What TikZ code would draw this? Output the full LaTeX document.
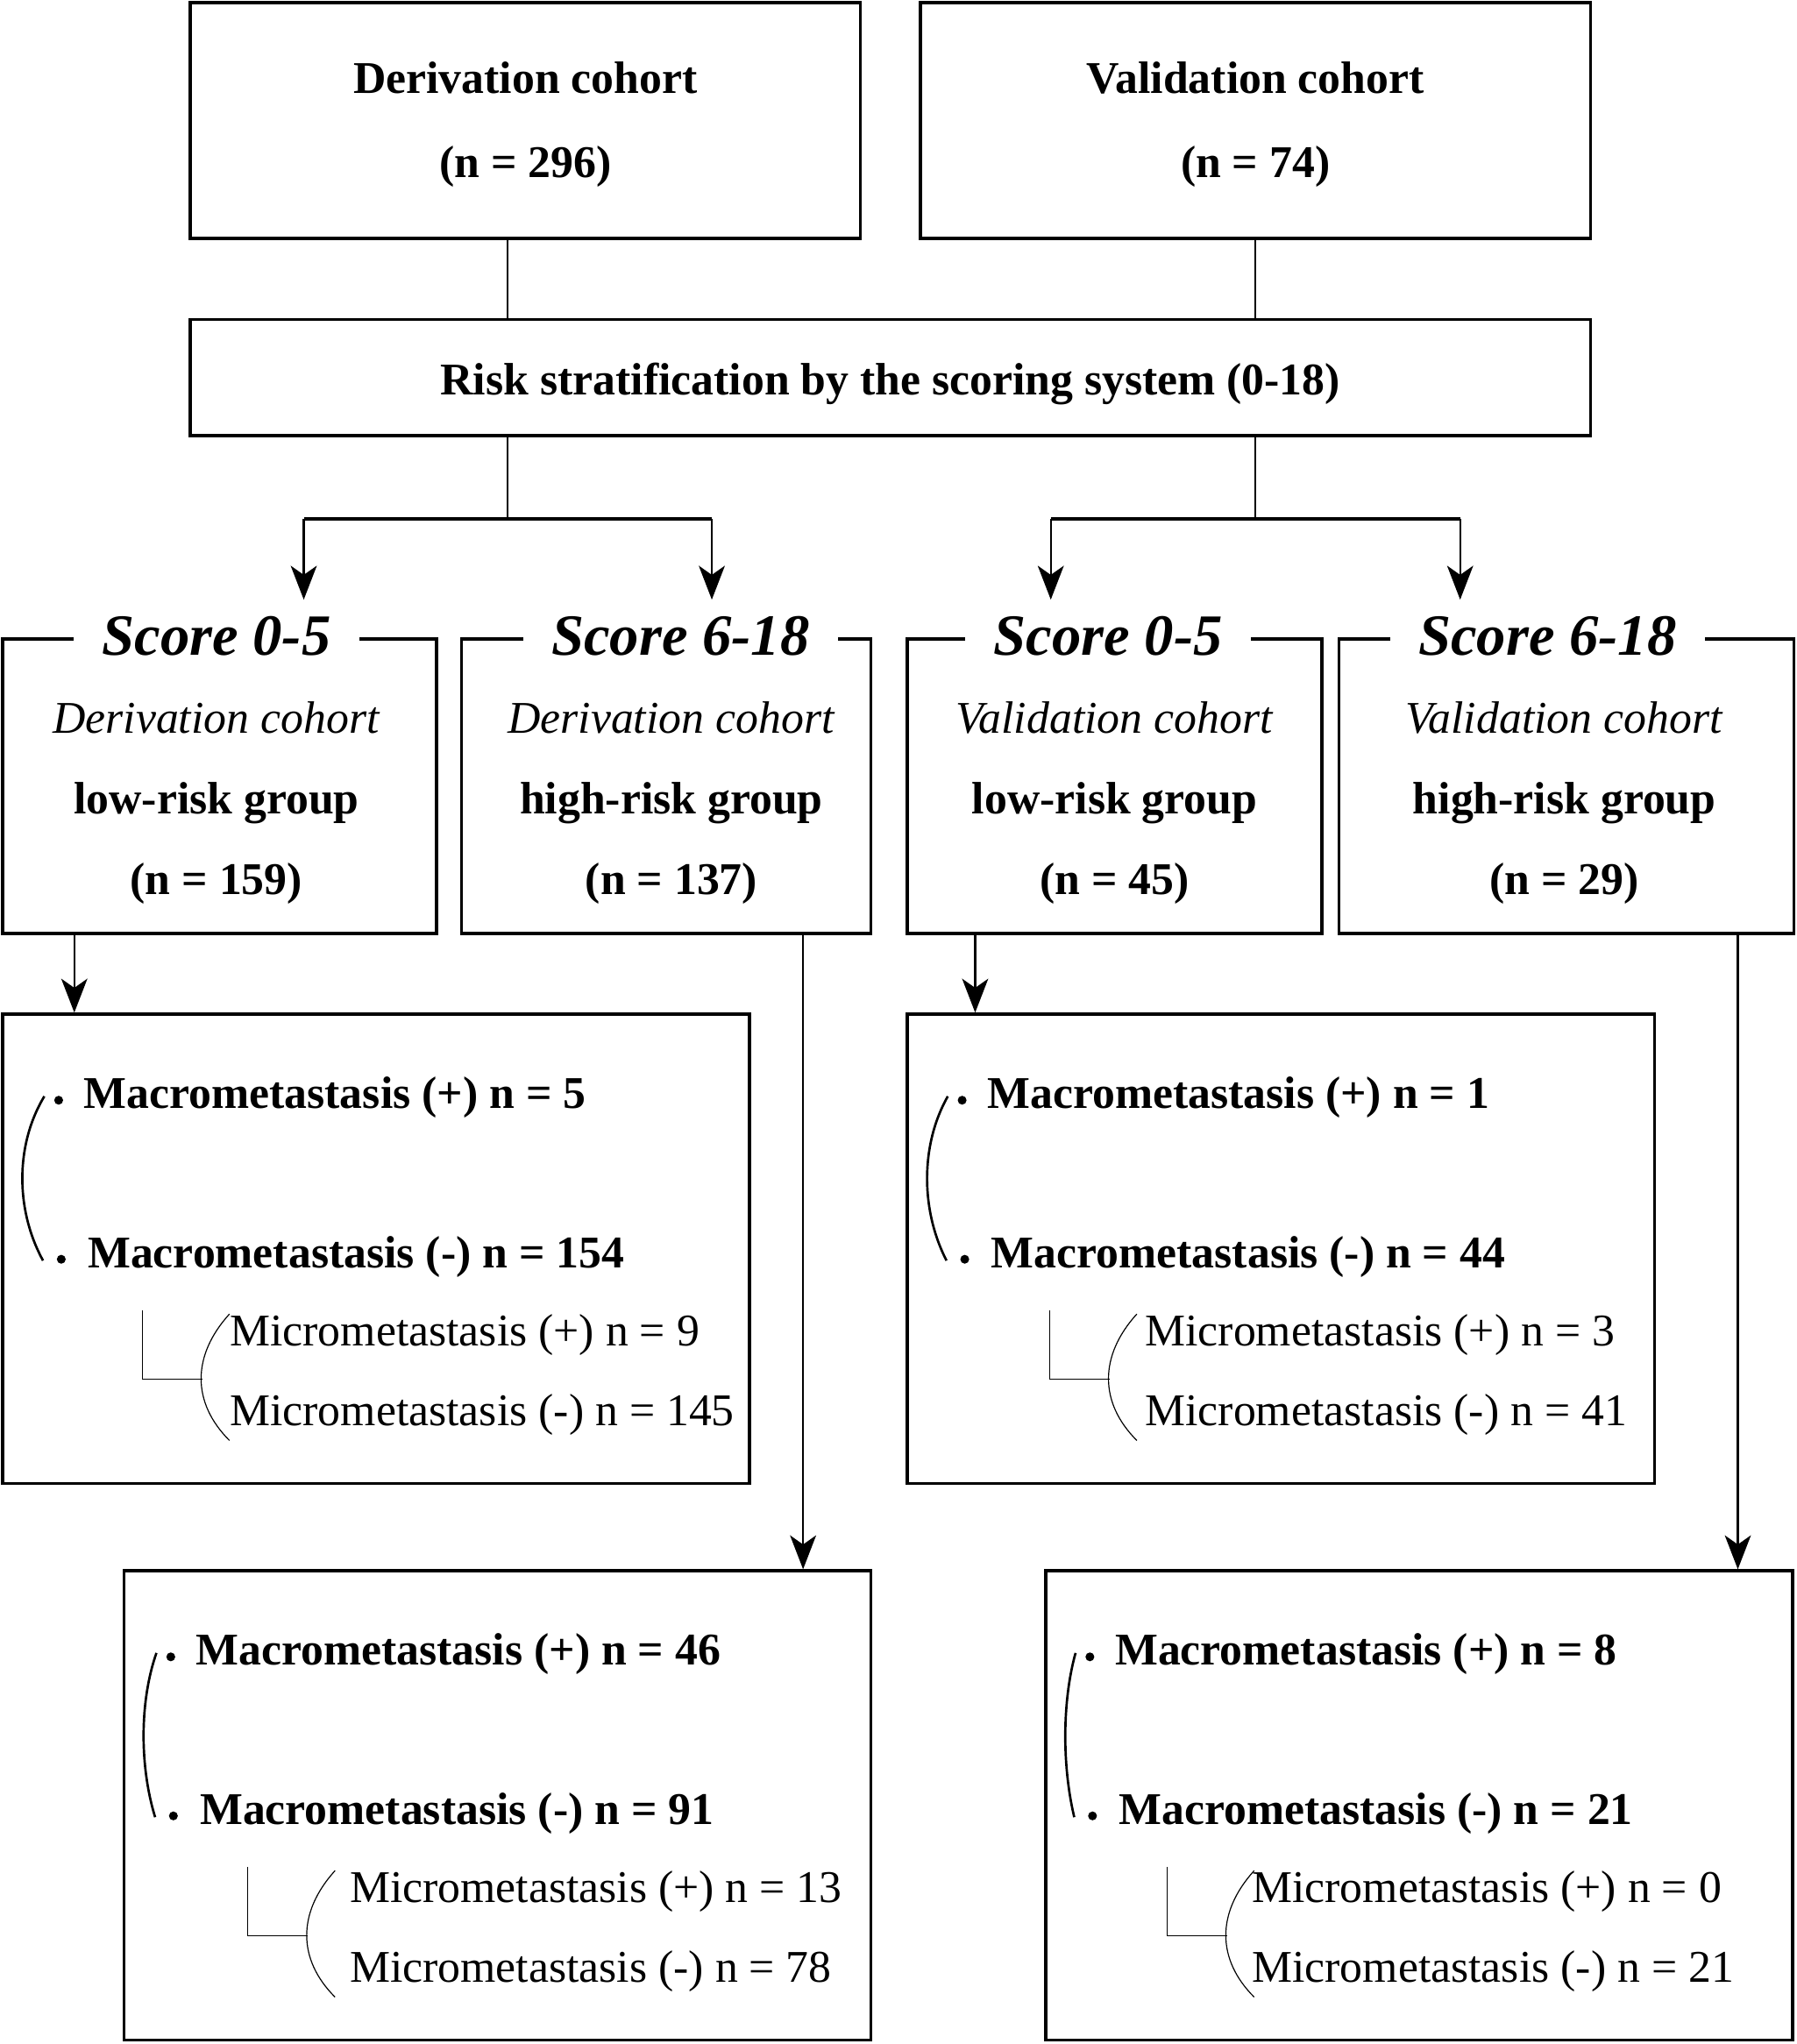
\documentclass[tikz,border=0pt]{standalone}
\usepackage{fontspec}
\setmainfont{Liberation Serif}
\usetikzlibrary{arrows.meta,positioning,fit,calc}

\tikzset{
  box/.style={draw,line width=1.2pt,inner sep=0pt},
  head/.style={fill=white,inner xsep=11pt,inner ysep=1pt,
    font=\fontsize{22.4}{26}\selectfont\bfseries\itshape},
  txt/.style={inner sep=0pt,font=\fontsize{17.4}{31}\selectfont},
  dot/.style={circle,fill,inner sep=0pt,minimum size=3.4pt},
  link/.style={line width=0.7pt},
  arr/.style={link,-{Stealth[length=13pt,width=10pt,inset=3.5pt]}},
}

\begin{document}
\begin{tikzpicture}[x=0.5pt,y=-0.5pt]
 \useasboundingbox (0,0) rectangle (1378,1568);
 % cohorts
 \node[box,fit={(146,2) (660,183)}] (der) {};
 \node[box,fit={(706,2) (1220,183)}] (val) {};
 \node[box,fit={(146,245) (1220,334)}] (risk) {};
 \node[txt,align=center,font=\fontsize{17.4}{32}\selectfont\bfseries] (der-t)
   at ([yshift=-1.5pt]der.center) {Derivation cohort\\(n = 296)};
 \node[txt,align=center,font=\fontsize{17.4}{32}\selectfont\bfseries] (val-t)
   at ([yshift=-1.5pt]val.center) {Validation cohort\\(n = 74)};
 \node[txt,font=\fontsize{17.4}{20}\selectfont\bfseries] (risk-t)
   at ([yshift=-2.5pt]risk.center) {Risk stratification by the scoring system (0-18)};
 \coordinate (dj) at (389,398);
 \coordinate (vj) at (963,398);
 \draw[link] (der.south -| dj) -- (risk.north -| dj);
 \draw[link] (val.south -| vj) -- (risk.north -| vj);
 \draw[link] (risk.south -| dj) -- (dj);
 \draw[link] (risk.south -| vj) -- (vj);
 % score groups
 \foreach \n/\xa/\xb/\hx/\tx/\sc/\co/\gr/\num in {
   s1/2/335/166/166/0-5/Derivation/low/159,
   s2/354/668/522/515/6-18/Derivation/high/137,
   s3/696/1014/850/855/0-5/Validation/low/45,
   s4/1027/1376/1187/1200/6-18/Validation/high/29}{
  \node[box,fit={(\xa,490) (\xb,716)}] (\n) {};
  \node[head] (\n-h) at (\hx,488) {Score \sc};
  \node[txt,align=center] (\n-t) at (\tx,616)
    {\textit{\co\ cohort}\\\textbf{\gr-risk group}\\\textbf{(n = \num)}};
 }
 \coordinate (a1) at (233,460);
 \coordinate (a2) at (546,460);
 \coordinate (a3) at (806,460);
 \coordinate (a4) at (1120,460);
 \draw[line width=1.2pt] (a1 |- dj) -- (a2 |- dj);
 \draw[line width=1.2pt] (a3 |- vj) -- (a4 |- vj);
 \foreach \a in {a1,a2}{\draw[arr] (\a |- dj) -- (\a);}
 \foreach \a in {a3,a4}{\draw[arr] (\a |- vj) -- (\a);}
 % outcomes
 \foreach \n/\x/\y/\bx/\cx/\mx/\pa/\pb/\ma/\mb in {
   d1/2/778/43/107/174/5/154/9/145, v1/696/778/42/109/182/1/44/3/41,
   d2/95/1205/36/95/173/46/91/13/78, v2/802/1205/34/93/158/8/21/0/21}{
  \node[box,fit={(\x,\y) (\x+573,\y+360)}] (\n) {};
  \node[dot] (\n-bp) at (\x+\bx,\y+66) {};
  \node[dot] (\n-bm) at (\x+\bx+2,\y+188) {};
  \node[txt,anchor=west] (\n-p) at (\x+\bx+19,\y+64) {\textbf{Macrometastasis (+) n = \pa}};
  \node[txt,anchor=west] (\n-m) at (\x+\bx+22,\y+186) {\textbf{Macrometastasis (-) n = \pb}};
  \node[txt,anchor=west] (\n-mp) at (\x+\mx,\y+246) {Micrometastasis (+) n = \ma};
  \node[txt,anchor=west] (\n-mm) at (\x+\mx,\y+307) {Micrometastasis (-) n = \mb};
  \draw[line width=0.9pt] (\x+\bx-11,\y+63) .. controls (\x+24-\bx/3,\y+100) and (\x+24-\bx/3,\y+150) .. (\x+\bx-12,\y+189);
  \draw[line width=0.4pt] (\x+\cx,\y+227) |- (\x+\cx+46,\y+280);
  \draw[line width=0.4pt] (\x+\cx+67,\y+230) .. controls (\x+\cx+38,\y+262) and (\x+\cx+38,\y+298) .. (\x+\cx+67,\y+327);
 }
 \coordinate (e1) at (57,0);
 \coordinate (e2) at (616,0);
 \coordinate (e3) at (748,0);
 \coordinate (e4) at (1333,0);
 \draw[arr] (s1.south -| e1) -- (d1.north -| e1);
 \draw[arr] (s2.south -| e2) -- (d2.north -| e2);
 \draw[arr] (s3.south -| e3) -- (v1.north -| e3);
 \draw[arr] (s4.south -| e4) -- (v2.north -| e4);
\end{tikzpicture}
\end{document}
